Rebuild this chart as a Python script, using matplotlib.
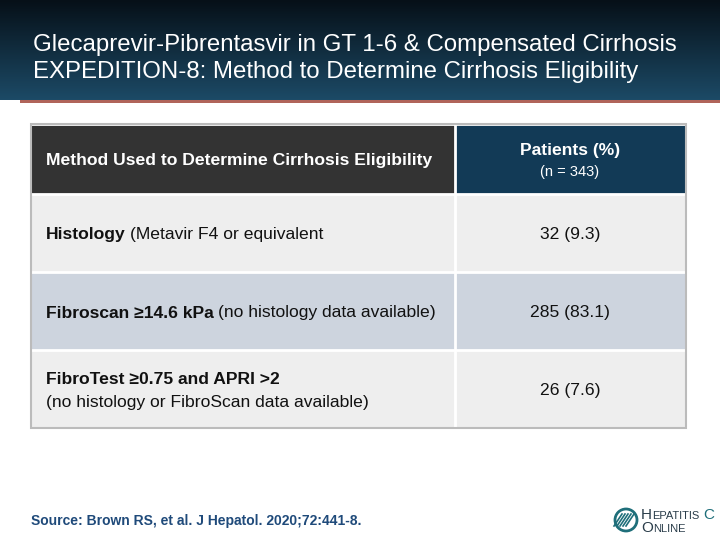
import matplotlib
matplotlib.use("Agg")
import matplotlib.pyplot as plt
from matplotlib.patches import Rectangle, Circle
import numpy as np

plt.rcParams['font.family'] = ['Liberation Sans', 'DejaVu Sans']

title_lines = ["Glecaprevir-Pibrentasvir in GT 1-6 & Compensated Cirrhosis",
               "EXPEDITION-8: Method to Determine Cirrhosis Eligibility"]
col_headers = ["Method Used to Determine Cirrhosis Eligibility", "Patients (%)", "(n = 343)"]
methods_bold = ["Histology", "Fibroscan \u226514.6 kPa", "FibroTest \u22650.75 and APRI >2"]
methods_rest = ["(Metavir F4 or equivalent", "(no histology data available)", "(no histology or FibroScan data available)"]
counts = [32, 285, 26]
pcts = [9.3, 83.1, 7.6]
source = "Source: Brown RS, et al. J Hepatol. 2020;72:441-8."

fig = plt.figure(figsize=(7.2, 5.4), dpi=100)
ax = fig.add_axes([0, 0, 1, 1])
ax.set_xlim(0, 720); ax.set_ylim(540, 0); ax.axis('off')

c1 = np.array([0x06, 0x10, 0x18]) / 255
c2 = np.array([0x1c, 0x4a, 0x66]) / 255
t = np.linspace(0, 1, 100)[:, None, None]
grad = c1 + (c2 - c1) * t
grad = np.repeat(grad, 2, axis=1)
ax.imshow(grad, extent=(0, 720, 100, 0), aspect='auto', zorder=0)
ax.add_patch(Rectangle((20, 100), 700, 2.5, color='#b0645a', lw=0, zorder=1))
ax.text(33, 45, title_lines[0], color='white', fontsize=17.3, va='center', ha='left')
ax.text(33, 72, title_lines[1], color='white', fontsize=17.3, va='center', ha='left')

L, M, R = 31, 455, 686
tops = [124, 194, 272, 350, 428]
ax.add_patch(Rectangle((L, tops[0]), M - L, tops[1] - tops[0], color='#333333', lw=0))
ax.add_patch(Rectangle((M, tops[0]), R - M, tops[1] - tops[0], color='#123a56', lw=0))
row_colors = ['#eeeeee', '#cdd4de', '#eeeeee']
for i in range(3):
    ax.add_patch(Rectangle((L, tops[i + 1]), R - L, tops[i + 2] - tops[i + 1], color=row_colors[i], lw=0))
for y in tops:
    ax.plot([L, R], [y, y], color='white', lw=2, zorder=3)
ax.plot([M, M], [tops[0], tops[-1]], color='white', lw=2, zorder=3)
ax.add_patch(Rectangle((L, tops[0]), R - L, tops[-1] - tops[0], fill=False, ec='#bbbbbb', lw=1.5, zorder=4))

ax.text(46, 160, col_headers[0], color='white', fontsize=12.6, fontweight='bold', va='center')
ax.text(570, 151, col_headers[1], color='white', fontsize=12.6, fontweight='bold', va='center', ha='center')
ax.text(570, 172, col_headers[2], color='white', fontsize=10.5, va='center', ha='center')

fig.canvas.draw()
rend = fig.canvas.get_renderer()
fs = 12.6
ys = [235, 313]
for i in range(2):
    tb = ax.text(46, ys[i], methods_bold[i], fontsize=fs, fontweight='bold', va='center', color='#111111')
    bb = tb.get_window_extent(rend)
    ax.text(46 + bb.width + 4, ys[i], methods_rest[i], fontsize=fs, va='center', color='#111111')
ax.text(46, 379, methods_bold[2], fontsize=fs, fontweight='bold', va='center', color='#111111')
ax.text(46, 403, methods_rest[2], fontsize=fs, va='center', color='#111111')
for i, y in enumerate([235, 313, 390]):
    ax.text(570, y, f"{counts[i]} ({pcts[i]})", fontsize=fs, va='center', ha='center', color='#111111')

ax.text(31, 521, source, fontsize=10, fontweight='bold', color='#1f4a7a', va='center')

# logo
ax.add_patch(Circle((626, 520), 11, fc='white', ec='#1f6f7a', lw=2))
for k in range(-2, 3):
    ax.plot([620 + k * 3, 628 + k * 3], [526, 514], color='#1f6f7a', lw=1.2)
def small_caps(x, y, first, rest, extra=None):
    a = ax.text(x, y, first, fontsize=11, color='#2a3d4a', va='baseline')
    w = a.get_window_extent(rend).width
    b = ax.text(x + w, y, rest, fontsize=8, color='#2a3d4a', va='baseline')
    w2 = b.get_window_extent(rend).width
    if extra:
        ax.text(x + w + w2 + 4, y, extra, fontsize=11, color='#1f6f7a', va='baseline')
small_caps(641, 519, "H", "EPATITIS", "C")
small_caps(641, 532, "O", "NLINE")

fig.savefig("out.png", dpi=100)
